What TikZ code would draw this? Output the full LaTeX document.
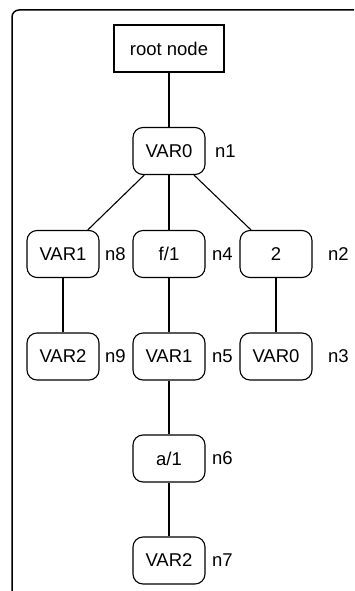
\documentclass[tikz,border=0pt]{standalone}
\usepackage{fontspec}
\setmainfont{Liberation Sans}
\begin{document}
\begin{tikzpicture}[x=1pt,y=-1pt,
  every node/.style={font=\fontsize{18.5}{22}\selectfont},
  vnode/.style={draw, rounded corners=10pt, minimum width=72pt, minimum height=47pt, inner sep=0pt, line width=1.1pt},
  rootbox/.style={draw, minimum width=110pt, minimum height=47pt, inner sep=0pt, line width=1.1pt},
  lbl/.style={anchor=west, inner sep=0pt},
  edge/.style={line width=1.1pt}]
\useasboundingbox (0,0) rectangle (354,591);
\clip (0,0) rectangle (354,591);
\draw[line width=1.5pt, rounded corners=7pt] (12,10) rectangle (380,620);
\node[rootbox] (root) at (169,48.5) {root node};
\node[vnode] (v1) at (169,151) {VAR0};
\node[vnode] (v8) at (63,254) {VAR1};
\node[vnode] (v4) at (169,254) {f/1};
\node[vnode] (v2) at (276,254) {2};
\node[vnode] (v9) at (63,356.5) {VAR2};
\node[vnode] (v5) at (169,356.5) {VAR1};
\node[vnode] (v3) at (276,356.5) {VAR0};
\node[vnode] (v6) at (169,458.5) {a/1};
\node[vnode] (v7) at (169,560.5) {VAR2};
\node[lbl] (l1) at (215,151) {n1};
\node[lbl] (l8) at (105,254) {n8};
\node[lbl] (l4) at (212,254) {n4};
\node[lbl] (l2) at (328,254) {n2};
\node[lbl] (l9) at (105,356.5) {n9};
\node[lbl] (l5) at (212,356.5) {n5};
\node[lbl] (l3) at (328,356.5) {n3};
\node[lbl] (l6) at (212,458.5) {n6};
\node[lbl] (l7) at (212,560.5) {n7};
\draw[edge] (root) -- (v1);
\draw[edge] (v1) -- (v8);
\draw[edge] (v1) -- (v4);
\draw[edge] (v1) -- (v2);
\draw[edge] (v8) -- (v9);
\draw[edge] (v4) -- (v5);
\draw[edge] (v2) -- (v3);
\draw[edge] (v5) -- (v6);
\draw[edge] (v6) -- (v7);
\end{tikzpicture}
\end{document}
